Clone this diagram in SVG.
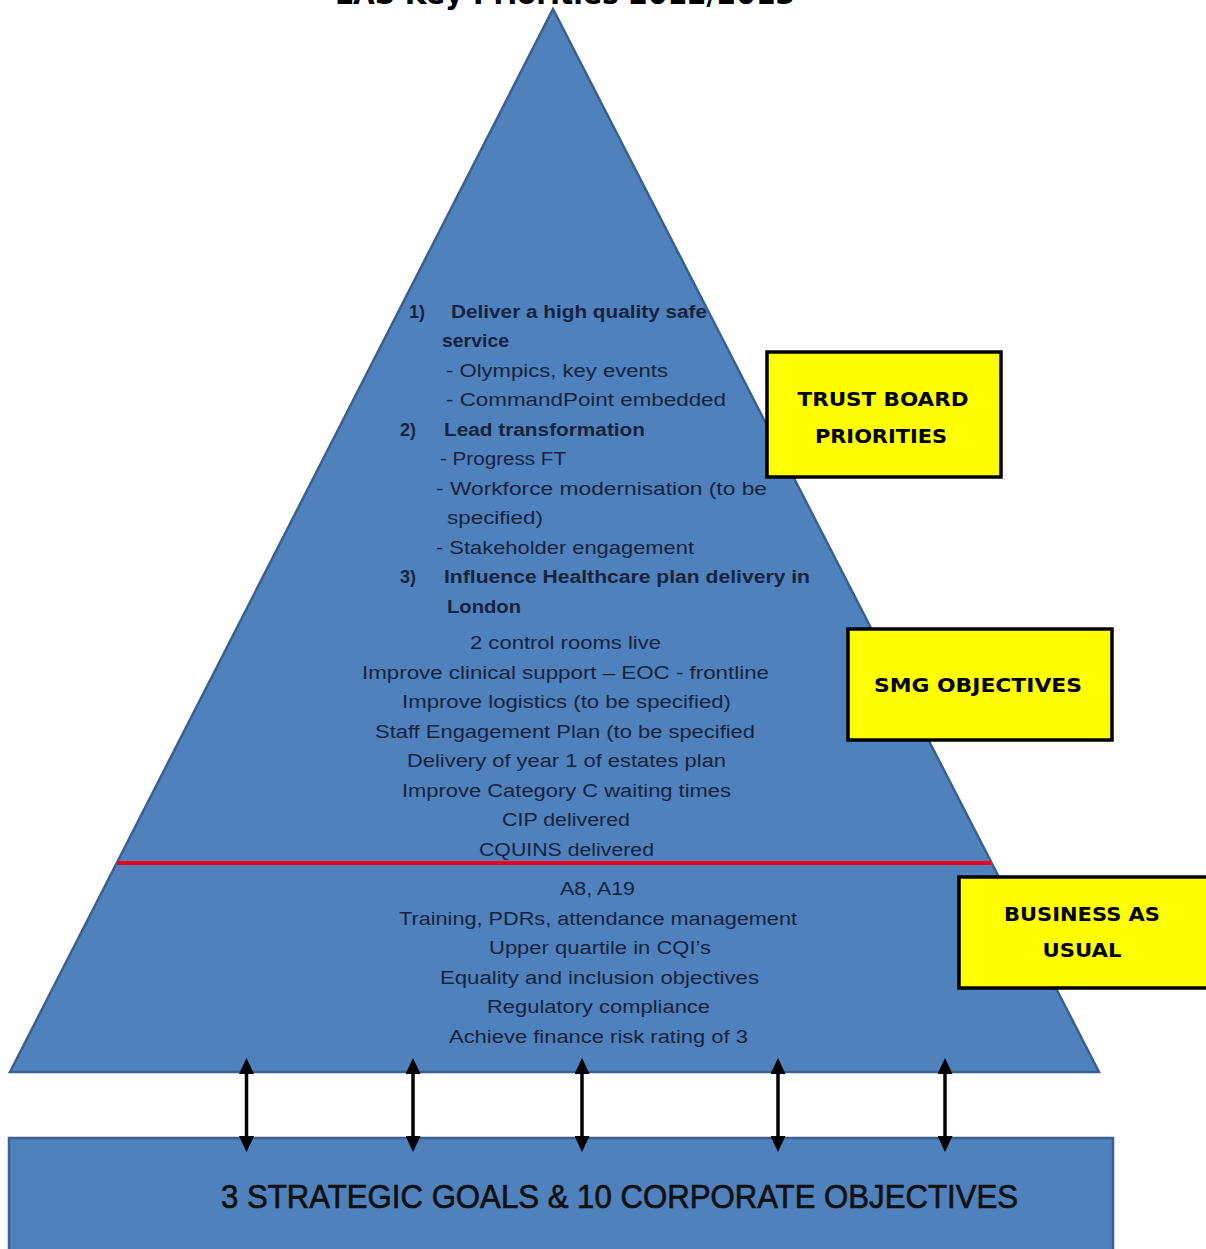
<svg xmlns="http://www.w3.org/2000/svg" width="1206" height="1249" viewBox="0 0 1206 1249">
<style>
.blue{fill:#4f81bd;stroke:#3a6090;stroke-width:2.5}
.t{font-family:"Liberation Sans",Arial,sans-serif;font-size:18px;fill:#17233d}
.b{font-weight:bold}
.m{text-anchor:middle}
.yb{fill:#ffff00;stroke:#000;stroke-width:3.5}
.yt{font-family:"DejaVu Sans",Verdana,sans-serif;font-weight:bold;font-size:20px;fill:#000;text-anchor:middle}
.arr{stroke:#000;stroke-width:3.5;fill:none;marker-start:url(#ah);marker-end:url(#ah)}
</style>
<defs>
<marker id="ah" markerUnits="userSpaceOnUse" markerWidth="16" markerHeight="15" viewBox="0 0 16 15" refX="11" refY="7.5" orient="auto-start-reverse">
<path d="M0,0 L16,7.5 L0,15 z" fill="#000"/>
</marker>
</defs>
<rect width="1206" height="1249" fill="#fff"/>
<text x="565" y="4" font-family="DejaVu Sans,Verdana,sans-serif" font-weight="bold" font-size="30" fill="#000" text-anchor="middle" textLength="460" lengthAdjust="spacingAndGlyphs">LAS Key Priorities 2012/2013</text>

<g id="pyramid">
<polygon class="blue" points="553,9 1099,1072 10,1072"/>
<line x1="117" y1="863" x2="991" y2="863" stroke="#f00010" stroke-width="4"/>
<g id="trust-text" class="t">
<text x="409" y="318" class="b">1)</text>
<text x="451" y="318" class="b" textLength="256" lengthAdjust="spacingAndGlyphs">Deliver a high quality safe</text>
<text x="442" y="347" class="b" textLength="67" lengthAdjust="spacingAndGlyphs">service</text>
<text x="446" y="377" textLength="222" lengthAdjust="spacingAndGlyphs">- Olympics, key events</text>
<text x="446" y="406" textLength="280" lengthAdjust="spacingAndGlyphs">- CommandPoint embedded</text>
<text x="400" y="436" class="b">2)</text>
<text x="444" y="436" class="b" textLength="201" lengthAdjust="spacingAndGlyphs">Lead transformation</text>
<text x="440" y="465" textLength="126" lengthAdjust="spacingAndGlyphs">- Progress FT</text>
<text x="436" y="495" textLength="331" lengthAdjust="spacingAndGlyphs">- Workforce modernisation (to be</text>
<text x="447" y="524" textLength="96" lengthAdjust="spacingAndGlyphs">specified)</text>
<text x="436" y="554" textLength="258" lengthAdjust="spacingAndGlyphs">- Stakeholder engagement</text>
<text x="400" y="583" class="b">3)</text>
<text x="444" y="583" class="b" textLength="366" lengthAdjust="spacingAndGlyphs">Influence Healthcare plan delivery in</text>
<text x="447" y="613" class="b" textLength="74" lengthAdjust="spacingAndGlyphs">London</text>
</g>
<g id="smg-text" class="t m">
<text x="565.5" y="649" textLength="191" lengthAdjust="spacingAndGlyphs">2 control rooms live</text>
<text x="565.5" y="678.6" textLength="407" lengthAdjust="spacingAndGlyphs">Improve clinical support – EOC - frontline</text>
<text x="566.5" y="708" textLength="329" lengthAdjust="spacingAndGlyphs">Improve logistics (to be specified)</text>
<text x="565" y="737.5" textLength="380" lengthAdjust="spacingAndGlyphs">Staff Engagement Plan (to be specified</text>
<text x="566.5" y="767" textLength="319" lengthAdjust="spacingAndGlyphs">Delivery of year 1 of estates plan</text>
<text x="566.5" y="796.5" textLength="329" lengthAdjust="spacingAndGlyphs">Improve Category C waiting times</text>
<text x="566" y="826" textLength="128" lengthAdjust="spacingAndGlyphs">CIP delivered</text>
<text x="566.5" y="856" textLength="175" lengthAdjust="spacingAndGlyphs">CQUINS delivered</text>
</g>
<g id="bau-text" class="t m">
<text x="597.5" y="895" textLength="75" lengthAdjust="spacingAndGlyphs">A8, A19</text>
<text x="598" y="925" textLength="398" lengthAdjust="spacingAndGlyphs">Training, PDRs, attendance management</text>
<text x="600" y="954" textLength="222" lengthAdjust="spacingAndGlyphs">Upper quartile in CQI’s</text>
<text x="599.5" y="984" textLength="319" lengthAdjust="spacingAndGlyphs">Equality and inclusion objectives</text>
<text x="598.5" y="1013" textLength="223" lengthAdjust="spacingAndGlyphs">Regulatory compliance</text>
<text x="598.5" y="1043" textLength="299" lengthAdjust="spacingAndGlyphs">Achieve finance risk rating of 3</text>
</g>
</g>

<g id="base">
<rect class="blue" x="9" y="1138" width="1104" height="130"/>
<text x="619.5" y="1208" font-family="Liberation Sans,Arial,sans-serif" font-size="33" fill="#111" stroke="#111" stroke-width="0.7" text-anchor="middle" textLength="797" lengthAdjust="spacingAndGlyphs">3 STRATEGIC GOALS &amp; 10 CORPORATE OBJECTIVES</text>
</g>

<g id="trust-board">
<rect class="yb" x="767" y="352" width="234" height="125"/>
<text class="yt" x="883" y="406" textLength="171" lengthAdjust="spacingAndGlyphs">TRUST BOARD</text>
<text class="yt" x="881" y="443" textLength="132" lengthAdjust="spacingAndGlyphs">PRIORITIES</text>
</g>
<g id="smg">
<rect class="yb" x="848" y="629" width="264" height="111"/>
<text class="yt" x="978" y="692" textLength="208" lengthAdjust="spacingAndGlyphs">SMG OBJECTIVES</text>
</g>
<g id="bau">
<rect class="yb" x="959" y="877" width="252" height="111"/>
<text class="yt" x="1082" y="921" textLength="156" lengthAdjust="spacingAndGlyphs">BUSINESS AS</text>
<text class="yt" x="1082" y="957" textLength="79" lengthAdjust="spacingAndGlyphs">USUAL</text>
</g>

<g id="connectors">
<line class="arr" x1="246.5" y1="1063" x2="246.5" y2="1147"/>
<line class="arr" x1="413" y1="1063" x2="413" y2="1147"/>
<line class="arr" x1="582" y1="1063" x2="582" y2="1147"/>
<line class="arr" x1="778" y1="1063" x2="778" y2="1147"/>
<line class="arr" x1="945" y1="1063" x2="945" y2="1147"/>
</g>
</svg>
